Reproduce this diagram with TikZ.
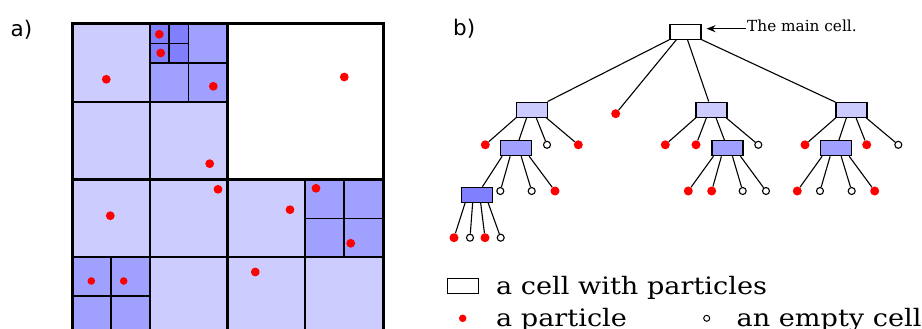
\documentclass[tikz,border=0pt]{standalone}
\usepackage{fontspec}
\setmainfont{DejaVu Serif}
\newfontfamily\labelfont{DejaVu Sans}
\newfontfamily\legendfont[FakeStretch=1.13]{DejaVu Serif}
\usetikzlibrary{arrows.meta}
\definecolor{cellone}{RGB}{204,204,255}
\definecolor{celltwo}{RGB}{160,160,255}
\definecolor{cellthree}{RGB}{128,128,255}

\begin{document}
\begin{tikzpicture}[
  x=1pt, y=-1pt,
  tcell/.style={draw, line width=1.1pt, minimum width=31pt, minimum height=15pt, inner sep=0pt},
  ptcl/.style={circle, fill=red, inner sep=0pt, minimum size=9pt},
  hole/.style={circle, draw, fill=white, line width=1.1pt, minimum size=7pt, inner sep=0pt},
  link/.style={line width=1.1pt},
  legend/.style={anchor=base west, inner sep=0pt, font=\legendfont\fontsize{24}{28}\selectfont},
  panel/.style={anchor=base west, inner sep=0pt, font=\labelfont\fontsize{21.5}{25}\selectfont},
  arrow/.style={-{Stealth[length=9pt,width=7pt]}, line width=1.1pt},
]
\useasboundingbox (0,0) rectangle (922,329);

% Panel labels
\node[panel] (lbla) at (10.4,36.5) {a)};
\node[panel] (lblb) at (453,36) {b)};

% Quadtree cells
\fill[cellone] (72,24) rectangle (227.5,179.5);
\fill[cellone] (72,179.5) rectangle (383,335);
\fill[celltwo] (149.75,24) rectangle (227.5,101.75);
\fill[celltwo] (72,257.25) rectangle (149.75,335);
\fill[celltwo] (305.25,179.5) rectangle (383,257.25);
\fill[cellthree] (149.75,24) rectangle (188.6,62.9);

% Cell borders
\draw[line width=1.5pt] (169.2,24) -- (169.2,62.9) (149.75,43.4) -- (188.6,43.4)
  (188.6,24) -- (188.6,101.75) (149.75,62.9) -- (227.5,62.9)
  (110.9,257.25) -- (110.9,335) (72,296.1) -- (149.75,296.1)
  (344.1,179.5) -- (344.1,257.25) (305.25,218.4) -- (383,218.4);
\draw[line width=1.8pt] (149.75,24) -- (149.75,335) (72,101.75) -- (227.5,101.75)
  (72,257.25) -- (383,257.25) (305.25,179.5) -- (305.25,335);
\draw[line width=2.2pt] (227.5,24) -- (227.5,335) (72,179.5) -- (383,179.5);
\draw[line width=3pt] (72,24) rectangle (383,335);

% Particles in the cells
\foreach \p in {(106.3,79.3), (159.3,34.3), (160.7,53), (213.3,86.3), (344.3,77),
  (209.7,163.7), (218,189.3), (110.3,215.7), (290,209.7), (316,188.3),
  (350.7,243.3), (255.3,272)}
  \fill[red] \p circle (4.4pt);
\fill[red] (91.3,281) circle (3.8pt) (123.7,281) circle (3.8pt);

% Tree
\node[tcell, fill=white] (root) at (685.5,31.6) {};
\node[tcell, fill=cellone] (c1) at (531.7,109.6) {};
\node[ptcl] (c2) at (615.7,113.7) {};
\node[tcell, fill=cellone] (c3) at (711.5,109.6) {};
\node[tcell, fill=cellone] (c4) at (851.5,109.6) {};

\node[ptcl] (c11) at (485.3,144.8) {};
\node[tcell, fill=celltwo] (c12) at (516.2,148.2) {};
\node[hole] (c13) at (547,144.8) {};
\node[ptcl] (c14) at (578.3,144.8) {};
\node[ptcl] (c31) at (665.3,144.8) {};
\node[ptcl] (c32) at (696,144.8) {};
\node[tcell, fill=celltwo] (c33) at (727.5,148.2) {};
\node[hole] (c34) at (758.3,144.8) {};
\node[ptcl] (c41) at (805,144.8) {};
\node[tcell, fill=celltwo] (c42) at (836.2,148.2) {};
\node[ptcl] (c43) at (866.7,144.8) {};
\node[hole] (c44) at (898.3,144.8) {};

\node[tcell, fill=cellthree] (c121) at (477.2,194.8) {};
\node[hole] (c122) at (500.3,191) {};
\node[hole] (c123) at (531.7,191) {};
\node[ptcl] (c124) at (555,191) {};
\node[ptcl] (c331) at (688.3,191) {};
\node[ptcl] (c332) at (711.7,191) {};
\node[hole] (c333) at (742.7,191) {};
\node[hole] (c334) at (766,191) {};
\node[ptcl] (c421) at (797.3,191) {};
\node[hole] (c422) at (820,191) {};
\node[hole] (c423) at (851.7,191) {};
\node[ptcl] (c424) at (874.7,191) {};

\node[ptcl] (c1211) at (454,237.7) {};
\node[hole] (c1212) at (470,237.7) {};
\node[ptcl] (c1213) at (485,237.7) {};
\node[hole] (c1214) at (500.7,237.7) {};

% Tree links
\draw[link] (root.south west) -- (c1) ([xshift=7pt]root.south west) -- (c2)
  ([xshift=18pt]root.south west) -- (c3) (root.south east) -- (c4);
\draw[link] ([xshift=0.5pt]c1.south west) -- (c11) ([xshift=11pt]c1.south west) -- (c12)
  ([xshift=20.5pt]c1.south west) -- (c13) ([xshift=30.5pt]c1.south west) -- (c14);
\draw[link] ([xshift=0.5pt]c3.south west) -- (c31) ([xshift=11pt]c3.south west) -- (c32)
  ([xshift=20.5pt]c3.south west) -- (c33) ([xshift=30.5pt]c3.south west) -- (c34);
\draw[link] ([xshift=0.5pt]c4.south west) -- (c41) ([xshift=11pt]c4.south west) -- (c42)
  ([xshift=20.5pt]c4.south west) -- (c43) ([xshift=30.5pt]c4.south west) -- (c44);
\draw[link] ([xshift=2pt]c12.south west) -- (c121) ([xshift=10pt]c12.south west) -- (c122)
  ([xshift=21pt]c12.south west) -- (c123) ([xshift=29pt]c12.south west) -- (c124);
\draw[link] ([xshift=2pt]c33.south west) -- (c331) ([xshift=10pt]c33.south west) -- (c332)
  ([xshift=21pt]c33.south west) -- (c333) ([xshift=29pt]c33.south west) -- (c334);
\draw[link] ([xshift=2pt]c42.south west) -- (c421) ([xshift=10pt]c42.south west) -- (c422)
  ([xshift=21pt]c42.south west) -- (c423) ([xshift=29pt]c42.south west) -- (c424);
\draw[link] ([xshift=4pt]c121.south west) -- (c1211) ([xshift=11.5pt]c121.south west) -- (c1212)
  ([xshift=19.5pt]c121.south west) -- (c1213) ([xshift=27pt]c121.south west) -- (c1214);

% Main cell annotation
\node[anchor=west, inner sep=1pt, text height=11pt, text depth=4.4pt,
  font=\fontsize{15.3}{18}\selectfont] (mainlbl) at (746,28.7) {The main cell.};
\draw[arrow, shorten >=5pt] (mainlbl.west) -- (mainlbl.west -| root.east);

% Legend
\node[tcell, fill=white] (lgcell) at (463.3,285.8) {};
\node[legend] (lgcelltxt) at (496,294.7) {a cell with particles};
\node[ptcl, minimum size=7.5pt] (lgptcl) at (462.7,318.3) {};
\node[legend] (lgptcltxt) at (496,326.5) {a particle};
\node[hole, minimum size=6pt, line width=1pt] (lghole) at (706.7,318.3) {};
\node[legend] (lgholetxt) at (736.5,326.5) {an empty cell};

\end{tikzpicture}
\end{document}
